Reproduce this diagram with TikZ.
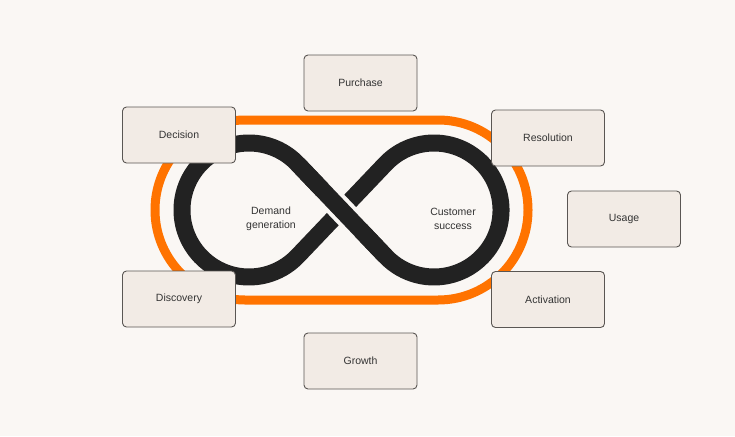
\documentclass[tikz,border=0pt]{standalone}
\usepackage{fontspec}
\setmainfont{Liberation Sans}
\definecolor{bgc}{HTML}{FAF7F4}
\definecolor{boxfill}{HTML}{F2EBE5}
\definecolor{boxline}{HTML}{5A5653}
\definecolor{orangec}{HTML}{FF7300}
\definecolor{infc}{HTML}{222222}
\definecolor{txt}{HTML}{333333}
\begin{document}
\begin{tikzpicture}[x=1pt,y=-1pt,
  box/.style={draw=boxline, line width=0.9pt, fill=boxfill, rounded corners=4pt,
    minimum width=113pt, minimum height=56pt, inner sep=0pt, text=txt,
    font=\fontsize{10.5}{12}\selectfont},
  lbl/.style={text=txt, align=center, font=\fontsize{10.5}{14}\selectfont},
  track/.style={draw=orangec, line width=9pt},
  inf/.style={draw=infc, line width=17pt},
  gapline/.style={draw=bgc, line width=25pt, shorten <=36pt, shorten >=36pt}]
\fill[bgc] (0,0) rectangle (735,436);
\useasboundingbox (0,0) rectangle (735,436);
% orange racetrack
\draw[track, rounded corners=89.9pt] (155,120) rectangle (528,300);
% infinity loop
\coordinate (tlu) at (297.5,163.8);
\coordinate (tll) at (297.5,256.2);
\coordinate (tru) at (385.5,163.8);
\coordinate (trl) at (385.5,256.2);
\draw[inf] (tlu) arc[start angle=-43.6, end angle=-316.4, radius=67]
  -- (tru) arc[start angle=-136.4, end angle=136.4, radius=67] -- cycle;
\draw[gapline] (tlu) -- (trl);
\draw[inf] (tlu) -- (trl);
% labels
\node[lbl] (demand) at (271,219) {Demand\\generation};
\node[lbl] (success) at (453,219) {Customer\\success};
% boxes
\node[box] (purchase) at (360.5,83) {Purchase};
\node[box] (decision) at (179,135) {Decision};
\node[box] (resolution) at (548,138) {Resolution};
\node[box] (usage) at (624,219) {Usage};
\node[box] (discovery) at (179,299) {Discovery};
\node[box] (activation) at (548,299.5) {Activation};
\node[box] (growth) at (360.5,361) {Growth};
\end{tikzpicture}
\end{document}
